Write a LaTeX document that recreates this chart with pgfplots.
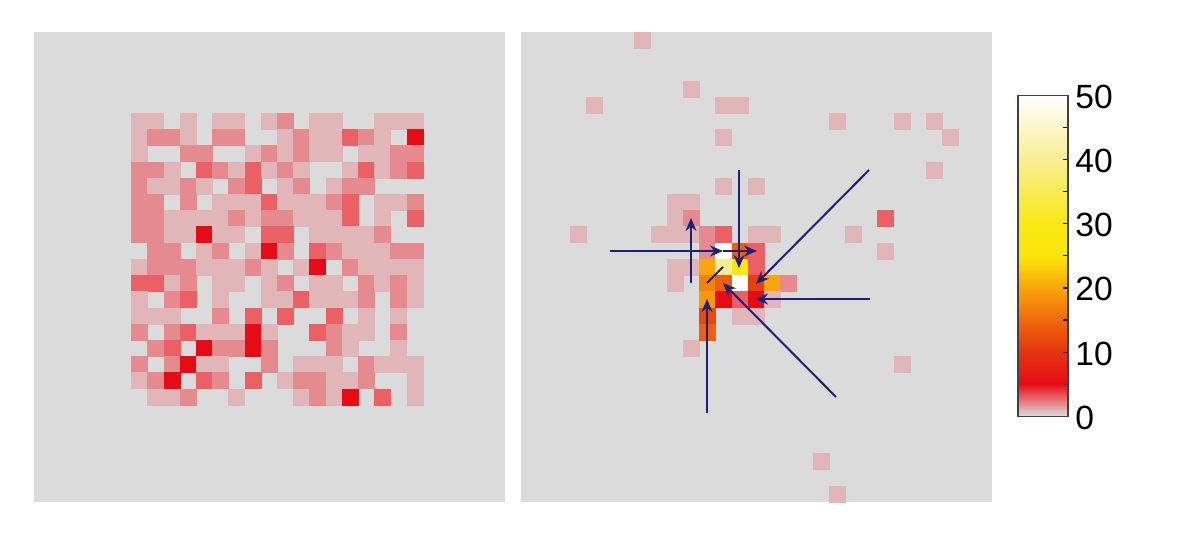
\documentclass[border=0pt]{standalone}
\usepackage{fontspec}
\setmainfont{Liberation Sans}
\usepackage{pgfplots}
\pgfplotsset{compat=1.18}
\usetikzlibrary{arrows.meta}
\definecolor{panel}{HTML}{DBDBDB}
\definecolor{arrowblue}{HTML}{1F1F7A}
\definecolor{barframe}{HTML}{404040}
\pgfplotsset{
  heatcolors/.style={
    colormap={heat}{
      rgb255(0cm)=(219,219,219);
      rgb255(1cm)=(225,182,185);
      rgb255(2cm)=(229,138,142);
      rgb255(3cm)=(234,96,101);
      rgb255(5cm)=(230,12,22);
      rgb255(10cm)=(228,52,16);
      rgb255(15cm)=(238,106,11);
      rgb255(20cm)=(250,165,10);
      rgb255(25cm)=(250,230,10);
      rgb255(30cm)=(250,232,20);
      rgb255(40cm)=(249,238,145);
      rgb255(50cm)=(255,255,255)
    },
    point meta min=0, point meta max=50
  },
  panelaxis/.style={
    heatcolors,
    scale only axis, width=235.5pt, height=235pt,
    xmin=-0.5, xmax=28.58, ymin=-0.5, ymax=28.5, y dir=reverse,
    enlargelimits=false, xtick=\empty, ytick=\empty,
    axis line style={draw=none},
    axis background/.style={fill=panel},
  },
  cells/.style={
    scatter, only marks, point meta=explicit,
    scatter/use mapped color={draw=mapped color, fill=mapped color},
    mark=square*, mark size=4.0pt,
    mark options={line width=0.1pt}
  }
}
\tikzset{arr/.style={-{Stealth[length=6.5pt,width=5.5pt]}, line width=1pt, draw=arrowblue, fill=arrowblue}}
\begin{document}
\begin{tikzpicture}
\path[use as bounding box] (0,0) rectangle (600pt,268pt);
\begin{axis}[panelaxis, at={(17pt,17pt)}, anchor=south west]
\addplot[cells] coordinates {
(6,5)[1] (7,5)[1] (9,5)[1] (11,5)[1] (12,5)[1] (14,5)[1] (15,5)[2] (17,5)[1] (18,5)[1] (21,5)[1] (22,5)[1] (23,5)[1]
(6,6)[1] (7,6)[2] (8,6)[2] (9,6)[1] (11,6)[2] (12,6)[2] (15,6)[1] (16,6)[2] (17,6)[1] (18,6)[1] (19,6)[3] (20,6)[2] (21,6)[1] (23,6)[5]
(6,7)[1] (9,7)[2] (10,7)[2] (13,7)[1] (14,7)[2] (15,7)[1] (16,7)[2] (17,7)[1] (18,7)[1] (20,7)[1] (21,7)[1] (22,7)[2] (23,7)[2]
(6,8)[2] (7,8)[2] (8,8)[1] (10,8)[3] (11,8)[2] (12,8)[1] (13,8)[3] (14,8)[1] (15,8)[2] (16,8)[1] (19,8)[1] (20,8)[3] (21,8)[1] (22,8)[2] (23,8)[3]
(6,9)[2] (7,9)[1] (8,9)[1] (9,9)[2] (10,9)[1] (12,9)[2] (13,9)[3] (15,9)[1] (16,9)[2] (18,9)[1] (19,9)[2] (20,9)[2]
(6,10)[2] (7,10)[2] (9,10)[2] (11,10)[1] (12,10)[1] (13,10)[1] (14,10)[3] (15,10)[1] (16,10)[1] (17,10)[1] (18,10)[2] (19,10)[3] (21,10)[1] (22,10)[1] (23,10)[2]
(6,11)[2] (7,11)[2] (8,11)[1] (9,11)[1] (10,11)[1] (11,11)[1] (12,11)[2] (13,11)[1] (14,11)[2] (15,11)[2] (16,11)[1] (17,11)[1] (18,11)[1] (19,11)[3] (21,11)[1] (23,11)[3]
(6,12)[2] (7,12)[2] (8,12)[1] (9,12)[1] (10,12)[5] (11,12)[1] (12,12)[1] (14,12)[3] (15,12)[3] (17,12)[1] (18,12)[1] (19,12)[1] (20,12)[1] (21,12)[2]
(7,13)[2] (8,13)[2] (10,13)[1] (11,13)[2] (13,13)[1] (14,13)[5] (15,13)[2] (17,13)[3] (18,13)[2] (19,13)[1] (20,13)[1] (21,13)[1] (22,13)[2] (23,13)[2]
(6,14)[1] (7,14)[2] (8,14)[2] (9,14)[2] (10,14)[1] (11,14)[1] (12,14)[1] (13,14)[2] (14,14)[1] (16,14)[1] (17,14)[5] (19,14)[2] (20,14)[1] (21,14)[1] (22,14)[1] (23,14)[1]
(6,15)[3] (7,15)[3] (8,15)[1] (9,15)[2] (11,15)[1] (12,15)[1] (14,15)[1] (15,15)[2] (17,15)[1] (18,15)[1] (20,15)[2] (21,15)[1] (22,15)[2] (23,15)[1]
(6,16)[1] (8,16)[2] (9,16)[3] (11,16)[1] (14,16)[1] (15,16)[1] (16,16)[3] (17,16)[1] (18,16)[1] (19,16)[1] (20,16)[2] (22,16)[2] (23,16)[1]
(6,17)[1] (7,17)[1] (8,17)[1] (11,17)[2] (13,17)[3] (15,17)[3] (18,17)[3] (20,17)[1] (22,17)[1]
(6,18)[2] (8,18)[2] (9,18)[3] (10,18)[1] (11,18)[1] (12,18)[1] (13,18)[5] (14,18)[1] (17,18)[3] (18,18)[2] (19,18)[1] (20,18)[1] (22,18)[2]
(7,19)[2] (8,19)[3] (10,19)[5] (11,19)[2] (12,19)[2] (13,19)[5] (14,19)[2] (18,19)[2] (19,19)[1] (22,19)[1]
(6,20)[2] (8,20)[2] (9,20)[5] (10,20)[1] (11,20)[1] (14,20)[2] (16,20)[1] (17,20)[1] (18,20)[1] (20,20)[2] (21,20)[1] (22,20)[1] (23,20)[1]
(6,21)[1] (7,21)[2] (8,21)[5] (10,21)[3] (11,21)[2] (13,21)[3] (15,21)[1] (16,21)[2] (17,21)[2] (18,21)[1] (19,21)[1] (20,21)[2] (23,21)[1]
(7,22)[1] (8,22)[1] (9,22)[2] (12,22)[1] (16,22)[1] (17,22)[2] (18,22)[1] (19,22)[5] (21,22)[3] (23,22)[1]
};
\end{axis}
\begin{axis}[panelaxis, at={(260.5pt,17pt)}, anchor=south west]
\addplot[cells] coordinates {
(7,0)[1] (4,4)[1] (10,3)[1] (12,4)[1] (13,4)[1] (12,6)[1] (19,5)[1] (23,5)[1] (25,5)[1] (26,6)[1] (25,8)[1]
(12,9)[1] (14,9)[1] (22,11)[3] (22,13)[1] (20,12)[1] (3,12)[1] (10,19)[1] (23,20)[1] (18,26)[1] (19,28)[1]
(9,10)[1] (10,10)[1] (9,11)[1] (10,11)[2]
(8,12)[1] (9,12)[1] (10,12)[1] (11,12)[2] (12,12)[3] (14,12)[1] (15,12)[1]
(11,13)[2] (12,13)[50] (13,13)[14] (14,13)[3]
(9,14)[1] (10,14)[1] (11,14)[20] (12,14)[40] (13,14)[29] (14,14)[3]
(9,15)[1] (11,15)[17] (12,15)[14] (13,15)[50] (14,15)[11] (15,15)[20] (16,15)[2]
(11,16)[19] (12,16)[5] (13,16)[3] (14,16)[5] (15,16)[1]
(11,17)[12] (13,17)[1] (14,17)[1]
(11,18)[14]
};
\end{axis}
\begin{axis}[at={(509pt,59.8pt)}, anchor=south west, heatcolors,
  scale only axis, width=25pt, height=160.5pt,
  xmin=0, xmax=1, ymin=0, ymax=50, enlargelimits=false,
  axis on top,
  xtick=\empty,
  ytick={0,10,20,30,40,50},
  minor ytick={5,15,25,35,45},
  ytick pos=right, yticklabel pos=right,
  tick align=inside,
  major tick length=2.6pt, minor tick length=2.6pt,
  tick style={draw=black, line width=0.6pt},
  axis line style={draw=barframe, line width=0.7pt},
  yticklabel style={font=\fontsize{16.8}{18}\selectfont, /pgf/number format/assume math mode=true, inner sep=0pt, xshift=3.5pt, yshift=-0.7pt},
]
\addplot[surf, shader=interp, mesh/cols=2, point meta=y] coordinates {
(0,0) (1,0)
(0,1) (1,1)
(0,2) (1,2)
(0,3) (1,3)
(0,5) (1,5)
(0,10) (1,10)
(0,15) (1,15)
(0,20) (1,20)
(0,25) (1,25)
(0,30) (1,30)
(0,40) (1,40)
(0,50) (1,50)
};
\end{axis}
\begin{axis}[at={(260.5pt,17pt)}, anchor=south west, scale only axis, width=235.5pt, height=235pt,
  hide axis, xmin=521, xmax=992, ymin=32, ymax=502, y dir=reverse, enlargelimits=false, clip=false]
\draw[arr] (axis cs:869,170) -- (axis cs:756,284);
\draw[arr] (axis cs:739,170) -- (axis cs:739,268);
\draw[arr] (axis cs:610,251) -- (axis cs:723,251);
\draw[arr] (axis cs:723,251) -- (axis cs:757,251);
\draw[arr] (axis cs:691,283) -- (axis cs:691,218);
\draw[arr] (axis cs:870,299) -- (axis cs:755,299);
\draw[arr] (axis cs:707,413) -- (axis cs:707,299);
\draw[arr] (axis cs:836,397) -- (axis cs:723,283);
\draw[line width=1pt, draw=arrowblue] (axis cs:707,283) -- (axis cs:723,267);
\end{axis}
\end{tikzpicture}
\end{document}
